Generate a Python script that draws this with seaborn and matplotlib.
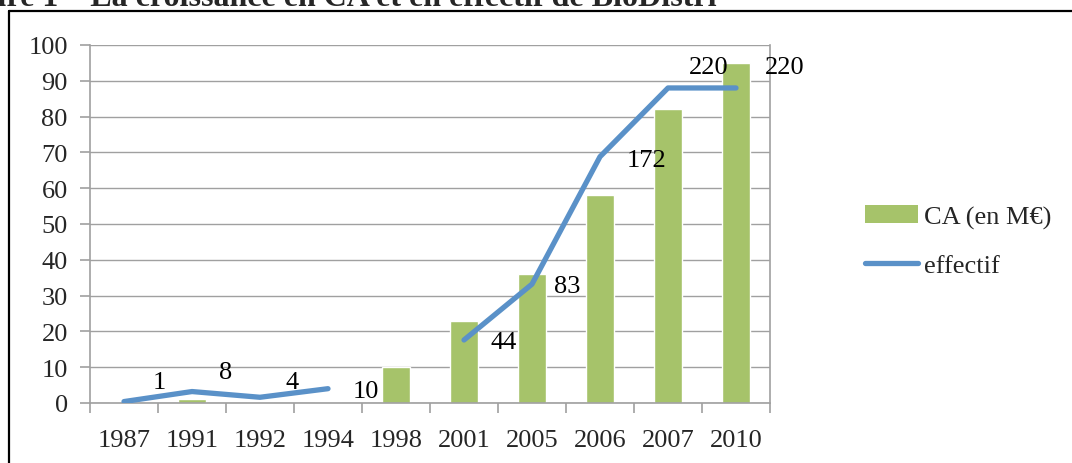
import numpy as np
import pandas as pd
import seaborn as sns
import matplotlib.pyplot as plt
from matplotlib.lines import Line2D
from matplotlib.patches import Patch

# Données
annees = ['1987', '1991', '1992', '1994', '1998', '2001', '2005', '2006', '2007', '2010']
ca = [0.3, 1, 0, 0, 10, 23, 36, 58, 82, 95]
effectif = [1, 8, 4, 10, np.nan, 44, 83, 172, 220, 220]
echelle_effectif = 0.4  # l'effectif est tracé à l'échelle 0.4 sur l'axe du CA

vert = '#A6C36A'
bleu = '#5A91C8'
gris = '#A0A0A0'
taille = 19

sns.set_style("white")
plt.rcParams['font.family'] = ['Liberation Serif', 'DejaVu Serif']

df = pd.DataFrame({'annee': annees, 'ca': ca, 'effectif': effectif})

fig = plt.figure(figsize=(10.72, 4.64), dpi=100)
ax = fig.add_axes([90 / 1072, 60 / 464, 680 / 1072, 358 / 464])

sns.barplot(data=df, x='annee', y='ca', color=vert, width=0.4, saturation=1, ax=ax)
pos = np.arange(len(annees))
y_eff = df['effectif'].values * echelle_effectif
ax.plot(pos, y_eff, color=bleu, lw=3.8, solid_capstyle='round', solid_joinstyle='round', zorder=3)

# étiquettes de l'effectif (décalages en pixels)
decalages = [(29, 20), (27, 20), (26, 15), (25, -2), (26, -2), (22, -2), (27, -3), (21, 21), (29, 21)]
for i, (v, y) in enumerate(zip(effectif, y_eff)):
    if np.isnan(v):
        # pas de point en 1998
        continue
    dx, dy = decalages[i] if i < 4 else decalages[i - 1]
    ax.annotate(f"{int(v)}", xy=(pos[i], y), xytext=(dx, dy), textcoords='offset pixels',
                ha='left', va='center', fontsize=taille, color='black', annotation_clip=False)

ax.set_ylim(0, 100)
ax.set_xlim(-0.5, len(annees) - 0.5)
ax.set_yticks(range(0, 101, 10))
ax.yaxis.grid(True, color=gris, lw=1)
ax.set_axisbelow(True)
ax.set_xlabel('')
ax.set_ylabel('')
for s in ax.spines.values():
    s.set_color(gris)
    s.set_linewidth(1.2)
ax.spines['top'].set_visible(False)

ax.tick_params(axis='y', length=7, color=gris, width=1.2, pad=9, labelsize=taille, left=True)
ax.set_xticks(pos, annees)
ax.set_xticks(np.arange(-0.5, len(annees), 1), minor=True)
ax.tick_params(axis='x', which='major', length=0, pad=19, labelsize=taille)
ax.tick_params(axis='x', which='minor', length=7, color=gris, width=1.2, bottom=True)

handles = [Patch(facecolor=vert, edgecolor='none', label='CA (en M€)'),
           Line2D([0], [0], color=bleu, lw=3.8, solid_capstyle='round', label='effectif')]
fig.legend(handles=handles, loc='center left', bbox_to_anchor=(865 / 1072, 1 - 242 / 464),
           frameon=False, fontsize=taille, handlelength=2.0, handletextpad=0.25,
           labelspacing=0.95, borderpad=0, borderaxespad=0)

# cadre et titre coupé en haut, comme sur l'original
fig.add_artist(Line2D([9 / 1072, 1], [1 - 12 / 464, 1 - 12 / 464], color='black', lw=1.6))
fig.add_artist(Line2D([9 / 1072, 9 / 1072], [0, 1 - 12 / 464], color='black', lw=1.6))
fig.text(717 / 1072, 1 - 6 / 464, "Figure 1 – La croissance en CA et en effectif de BioDistri",
         ha='right', va='baseline', fontsize=23, fontweight='bold')

fig.savefig('out.png', dpi=100)
